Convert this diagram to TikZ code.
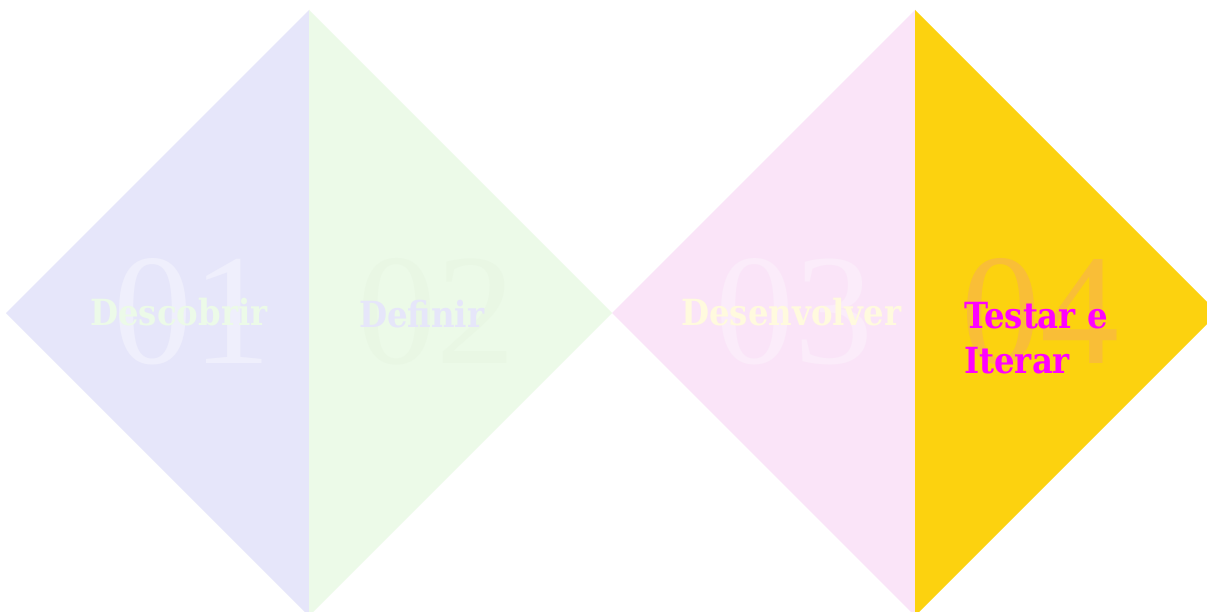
\documentclass[tikz,border=0pt]{standalone}
\usepackage{fontspec}
\setmainfont{DejaVu Serif}
\newfontfamily\lblfont{DejaVu Serif Condensed}
\newfontfamily\numfont{Liberation Serif}
\usetikzlibrary{positioning}
\definecolor{discblue}{RGB}{230,230,250}
\definecolor{defgreen}{RGB}{236,250,232}
\definecolor{devpink}{RGB}{250,228,248}
\definecolor{testgold}{RGB}{252,210,15}
\definecolor{devcream}{RGB}{255,250,222}
\definecolor{numgreen}{RGB}{233,247,228}
\definecolor{numorange}{RGB}{249,190,55}
\definecolor{lblmagenta}{RGB}{255,0,255}

\begin{document}
\begin{tikzpicture}[x=1pt,y=-1pt,
  bignum/.style={anchor=base west,inner sep=0pt,
                 font=\numfont\fontsize{158}{158}\selectfont},
  lbl/.style={anchor=base west,inner sep=0pt,align=left,
              font=\lblfont\bfseries\fontsize{36}{45}\selectfont},
]
\useasboundingbox[fill=white] (0,0) rectangle (1207,612);
\clip (0,0) rectangle (1207,612);

% tips of the two diamonds
\foreach \d/\cx in {a/309,b/915}{
  \coordinate (\d top) at (\cx,10);
  \coordinate (\d bot) at (\cx,616);
  \coordinate (\d left) at (\cx-303,313);
  \coordinate (\d right) at (\cx+303,313);
}

\fill[discblue]  (atop) -- (abot) -- (aleft)  -- cycle;
\fill[defgreen]  (atop) -- (abot) -- (aright) -- cycle;
\fill[devpink]   (btop) -- (bbot) -- (bleft)  -- cycle;
\fill[testgold]  (btop) -- (bbot) -- (bright) -- cycle;

% big step numbers
\node[bignum,text=white!35!discblue] (n1) at (113,363) {01};
\node[bignum,text=numgreen]          (n2) at (357,363) {02};
\node[bignum,text=white!30!devpink]  (n3) at (715,363) {03};
\node[bignum,text=numorange]         (n4) at (961,363) {04};

% step names
\node[lbl,text=defgreen]   (descobrir) at (90,325)  {Descobrir};
\node[lbl,text=discblue]   (definir)   at (359,327) {Definir};
\node[lbl,text=devcream]   (desenv)    at (681,325) {Desenvolver};
\node[lbl,text=lblmagenta] (testar)    at (964,373) {Testar e\\Iterar};
\end{tikzpicture}
\end{document}
